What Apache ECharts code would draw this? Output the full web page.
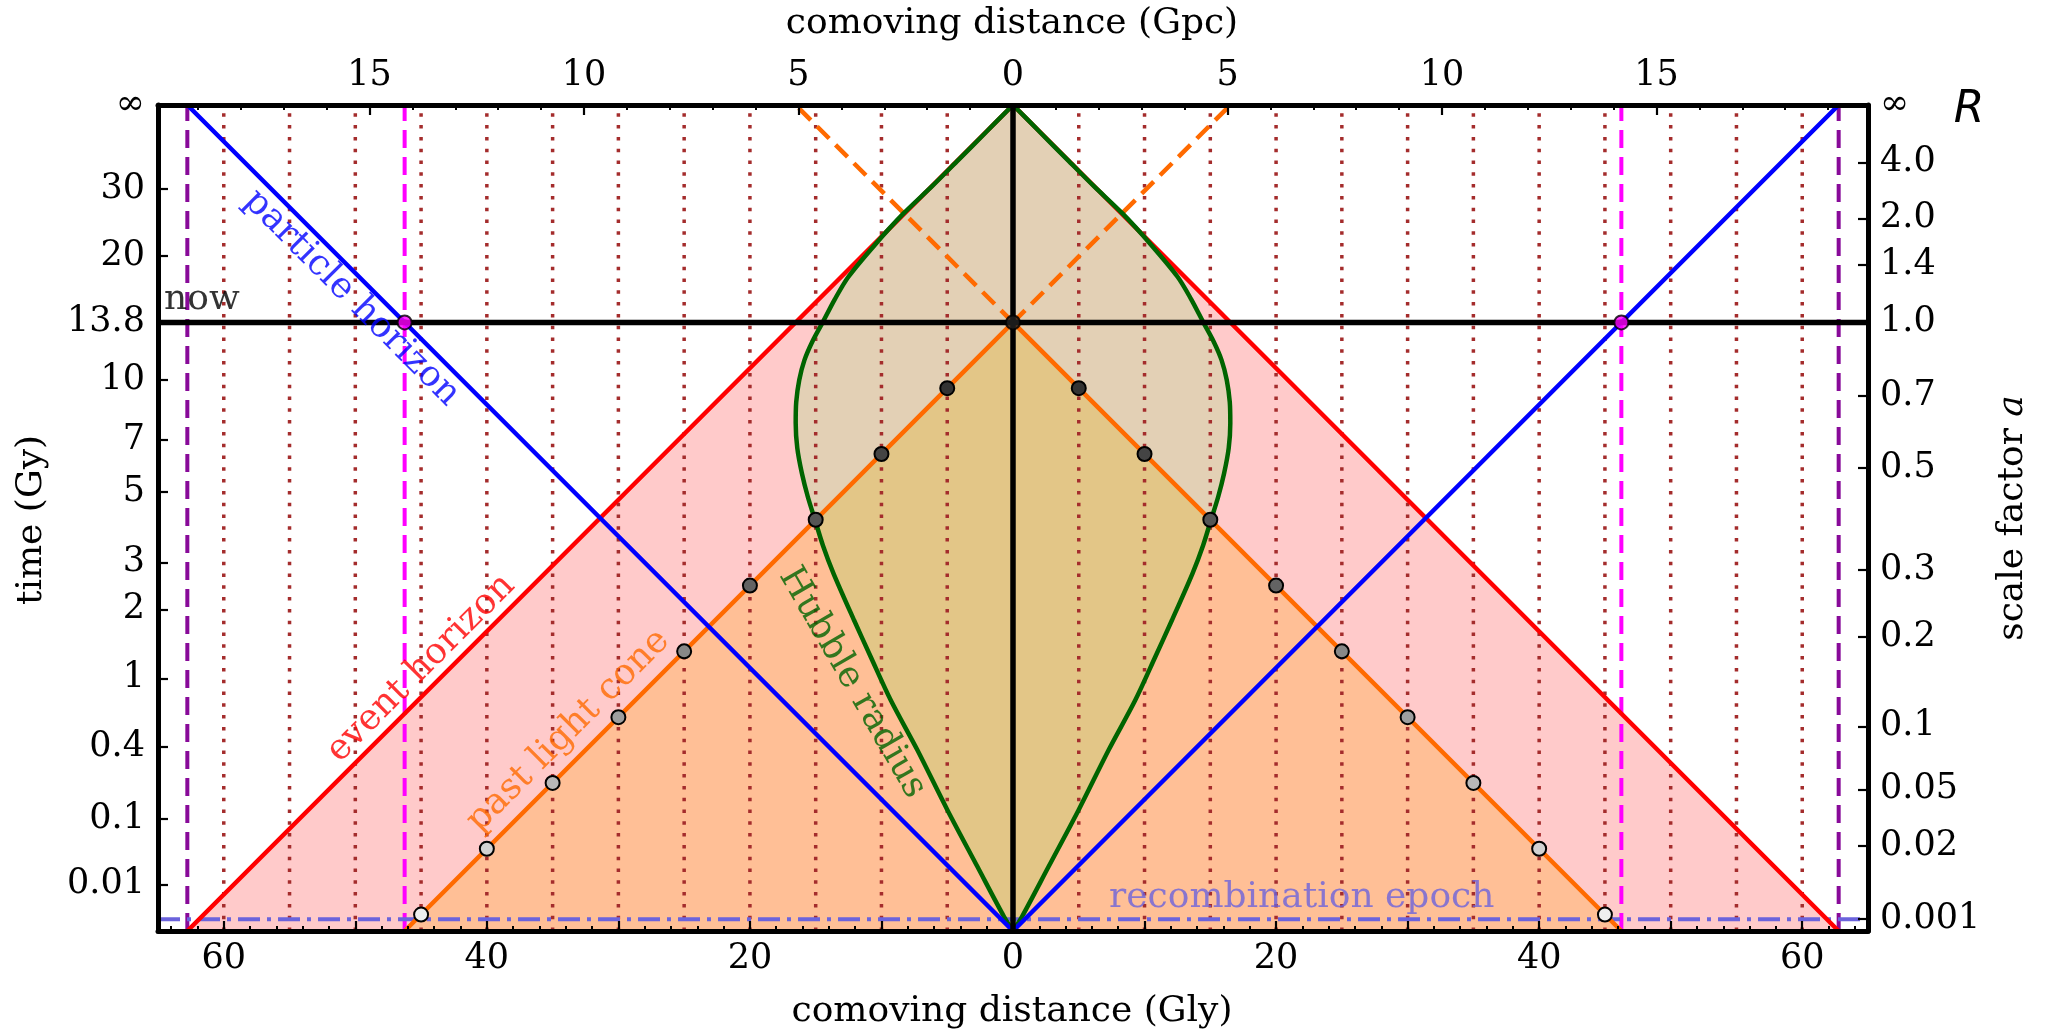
<!DOCTYPE html>
<html><head><meta charset="utf-8">
<script src="https://cdn.jsdelivr.net/npm/echarts@6/dist/echarts.min.js"></script>
<style>html,body{margin:0;padding:0;background:#fff}#c{width:2047px;height:1036px}</style>
</head><body><div id="c"></div>
<script>
// ---------------- data (x: comoving distance in Gly, y: conformal time in Gly) ----------------
const timeTickLabels  = ['∞','30','20','13.8','10','7','5','3','2','1','0.4','0.1','0.01'];
const timeTickEta     = [62.77,56.38,51.31,46.25,41.87,37.31,33.38,28.02,24.45,19.20,13.97,8.51,3.55];
const scaleTickLabels = ['∞','4.0','2.0','1.4','1.0','0.7','0.5','0.3','0.2','0.1','0.05','0.02','0.001'];
const scaleTickEta    = [62.77,58.41,54.16,50.61,46.25,40.68,35.21,27.43,22.36,15.55,10.77,6.48,0.91];
const distMajorGly = [-60,-50,-40,-30,-20,-10,0,10,20,30,40,50,60];
const distLabelGly = [-60,-40,-20,0,20,40,60];
const distMajorGpc = [-15,-10,-5,0,5,10,15];
const GLY_PER_GPC = 3.2616;

const etaInfinity = 62.77;   // conformal time at t = infinity
const etaNow = 46.25;        // conformal time today (13.8 Gy)
const etaRecomb = 0.9;       // recombination epoch

const eventHorizonX   = [-62.77, 0, 62.77];
const eventHorizonEta = [0, 62.77, 0];
const lightConeX      = [-46.25, 0, 46.25];
const lightConeEta    = [0, 46.25, 0];
const futureConeLX    = [0, -16.52];
const futureConeLEta  = [46.25, 62.77];
const futureConeRX    = [0, 16.52];
const futureConeREta  = [46.25, 62.77];
const particleHorizonX   = [-62.77, 0, 62.77];
const particleHorizonEta = [62.77, 0, 62.77];
const hubbleEta    = [0, 1.1, 4.9, 9.2, 13.75, 17.55, 20.84, 23.63, 27.18, 29.3, 31.23, 33.0, 34.78, 36.7, 38.58, 40.2, 41.87, 43.4, 44.8, 46.25, 48.0, 49.72, 52.25, 54.53, 56.6, 58.6, 60.7, 62.77];
const hubbleRadius = [0, 0.69, 2.71, 4.99, 7.27, 9.30, 10.82, 12.09, 13.65, 14.45, 15.05, 15.6, 16.05, 16.4, 16.52, 16.48, 16.25, 15.85, 15.25, 14.47, 13.55, 12.51, 10.41, 8.32, 6.15, 4.15, 2.06, 0];
const galaxyX   = [-45,-40,-35,-30,-25,-20,-15,-10,-5,5,10,15,20,25,30,35,40,45];
const galaxyEta = [1.25,6.25,11.25,16.25,21.25,26.25,31.25,36.25,41.25,41.25,36.25,31.25,26.25,21.25,16.25,11.25,6.25,1.25];
const horizonNowX   = [-46.25, 46.25];
const horizonNowEta = [46.25, 46.25];
const hereNowX = [0];
const hereNowEta = [46.25];
const gridLineX = [-60,-55,-50,-45,-40,-35,-30,-25,-20,-15,-10,-5,5,10,15,20,25,30,35,40,45,50,55,60];
const magentaLineX = [-46.25, 46.25];
const purpleLineX  = [-62.77, 62.77];

// ---------------- helpers ----------------
const FONT = 'DejaVu Serif';
const XMIN = -65, XMAX = 65;
const zip = (xs, ys) => xs.map((x, i) => [x, ys[i]]);
function nearestLabel(v, etas, labels) {
  let bi = 0, bd = Infinity;
  etas.forEach((e, i) => { const d = Math.abs(e - v); if (d < bd) { bd = d; bi = i; } });
  return labels[bi];
}
const distMinorGly = [];
for (let v = -64; v <= 64; v += 2) if (v % 10 !== 0) distMinorGly.push(v);
const gpcMinorGly = [];
for (let v = -19; v <= 19; v++) if (v % 5 !== 0) gpcMinorGly.push(v * GLY_PER_GPC);

const hubbleLeft  = hubbleEta.map((e, i) => [-hubbleRadius[i], e]);
const hubbleRight = hubbleEta.map((e, i) => [hubbleRadius[i], e]);
const lensPoly = hubbleLeft.concat(hubbleRight.slice().reverse());
function lensInCone() {
  const pts = [];
  for (let i = 0; i < hubbleEta.length; i++) {
    const f = hubbleEta[i] + hubbleRadius[i] - etaNow;
    if (f <= 0) { pts.push([-hubbleRadius[i], hubbleEta[i]]); continue; }
    const fp = hubbleEta[i - 1] + hubbleRadius[i - 1] - etaNow;
    const t = fp / (fp - f);
    pts.push([-(hubbleRadius[i - 1] + t * (hubbleRadius[i] - hubbleRadius[i - 1])),
              hubbleEta[i - 1] + t * (hubbleEta[i] - hubbleEta[i - 1])]);
    break;
  }
  return pts.concat([[0, etaNow]], pts.slice().reverse().map(p => [-p[0], p[1]]));
}

function polygonSeries(points, color, z) {
  return {
    type: 'custom', z: z, silent: true, data: [[0, 0]],
    renderItem: (params, api) => ({
      type: 'polygon',
      shape: { points: points.map(p => api.coord(p)) },
      style: { fill: color }
    })
  };
}
function vLineSeries(xs, color, width, dash, z) {
  return {
    type: 'custom', z: z, silent: true, data: xs.map(x => [x, 0]),
    renderItem: (params, api) => {
      const a = api.coord([api.value(0), 0]);
      const b = api.coord([api.value(0), etaInfinity]);
      return { type: 'line', shape: { x1: a[0], y1: a[1], x2: b[0], y2: b[1] },
               style: { stroke: color, lineWidth: width, lineDash: dash } };
    }
  };
}
function lineSeries(data, color, width, z, type, smooth) {
  return { type: 'line', data: data, z: z, silent: true, showSymbol: false, symbol: 'none',
           smooth: smooth || false, clip: true,
           lineStyle: { color: color, width: width, type: type || 'solid', cap: 'butt' } };
}
function textLabel(x, y, text, color, rotate, align) {
  return { value: [x, y], label: { show: true, position: 'inside', formatter: text, color: color,
           rotate: rotate, align: align || 'center', verticalAlign: 'middle',
           fontFamily: FONT, fontSize: 36 } };
}

const LW = 4.5;
const series = [
  polygonSeries(zip(eventHorizonX, eventHorizonEta), '#ffcaca', 1),
  polygonSeries(zip(lightConeX, lightConeEta), '#ffbf96', 1),
  polygonSeries(lensPoly, '#e3d0b5', 1),
  polygonSeries(lensInCone(), '#e3c687', 1),
  vLineSeries(gridLineX, '#a42c2c', 3.5, [3.5, 8.3], 2),
  lineSeries([[XMIN, etaRecomb], [XMAX, etaRecomb]], '#6b63dc', 4, 3, [22, 7, 4, 7]),
  vLineSeries(magentaLineX, '#ff00ff', 4, [18, 9], 3),
  vLineSeries(purpleLineX, '#880a99', 4, [18, 9], 3),
  lineSeries(zip(futureConeLX, futureConeLEta), '#ff6a00', LW, 4, [17, 9]),
  lineSeries(zip(futureConeRX, futureConeREta), '#ff6a00', LW, 4, [17, 9]),
  lineSeries(zip(eventHorizonX, eventHorizonEta), '#ff0000', LW, 4),
  lineSeries(zip(lightConeX, lightConeEta), '#ff6a00', LW, 4),
  lineSeries(hubbleLeft, '#006400', LW, 4, 'solid', 0.3),
  lineSeries(hubbleRight, '#006400', LW, 4, 'solid', 0.3),
  lineSeries(zip(particleHorizonX, particleHorizonEta), '#0000ff', LW, 4),
  lineSeries([[XMIN, etaNow], [XMAX, etaNow]], '#000000', 5.5, 5),
  lineSeries([[0, 0], [0, etaInfinity]], '#000000', 5.5, 5),
  { type: 'scatter', z: 6, silent: true, data: zip(galaxyX, galaxyEta), symbol: 'circle', symbolSize: 14,
    itemStyle: { borderColor: '#000', borderWidth: 2, opacity: 1 } },
  { type: 'scatter', z: 6, silent: true, data: zip(horizonNowX, horizonNowEta), symbol: 'circle', symbolSize: 14,
    itemStyle: { color: '#ff00ff', borderColor: '#000', borderWidth: 2 } },
  { type: 'scatter', z: 6, silent: true, data: zip(hereNowX, hereNowEta), symbol: 'circle', symbolSize: 14,
    itemStyle: { color: '#222', borderColor: '#000', borderWidth: 2 } },
  { type: 'scatter', z: 7, silent: true, symbolSize: 0,
    data: [
      textLabel(-50.3, 48.1, 'particle horizon', '#0000ff', -45),
      textLabel(-45.0, 19.95, 'event horizon', '#ff0000', 45),
      textLabel(-33.8, 15.2, 'past light cone', '#ff6a00', 45),
      textLabel(-12.23, 18.86, 'Hubble radius', '#006400', -60),
      textLabel(21.95, 2.55, 'recombination epoch', '#6b63dc', 0),
      textLabel(-64.54, 48.0, 'now', '#000000', 0, 'left')
    ] }
];
const galaxySeriesIndex = 17;

const axisLineStyle = { color: '#000', width: 5 };
const labelStyle = { fontFamily: FONT, fontSize: 35, color: '#000' };

const option = {
  animation: false,
  backgroundColor: '#ffffff',
  grid: { left: 158, right: 179, top: 105, bottom: 105, containLabel: false },
  visualMap: { show: false, type: 'continuous', seriesIndex: galaxySeriesIndex, dimension: 1,
    min: 1.25, max: 41.25,
    inRange: { color: ['#eeeeee','#d2d2d2','#b8b8b8','#9e9e9e','#888888','#636363','#555555','#444444','#333333'] } },
  xAxis: [
    { type: 'value', position: 'bottom', min: XMIN, max: XMAX, z: 10,
      axisLine: { onZero: false, lineStyle: axisLineStyle },
      axisTick: { inside: true, length: 10, customValues: distMajorGly, lineStyle: { color: '#000', width: 2.2 } },
      axisLabel: Object.assign({ customValues: distLabelGly, margin: 10,
        formatter: v => String(Math.abs(Math.round(v))) }, labelStyle),
      splitLine: { show: false } },
    { type: 'value', position: 'bottom', min: XMIN, max: XMAX, z: 10,
      axisLine: { onZero: false, show: false },
      axisTick: { inside: true, length: 5, customValues: distMinorGly, lineStyle: { color: '#000', width: 2 } },
      axisLabel: { show: false }, splitLine: { show: false } },
    { type: 'value', position: 'top', min: XMIN, max: XMAX, z: 10,
      axisLine: { onZero: false, lineStyle: axisLineStyle },
      axisTick: { inside: true, length: 10, customValues: distMajorGpc.map(v => v * GLY_PER_GPC), lineStyle: { color: '#000', width: 2.2 } },
      axisLabel: Object.assign({ customValues: distMajorGpc.map(v => v * GLY_PER_GPC), margin: 12,
        formatter: v => String(Math.abs(Math.round(v / GLY_PER_GPC))) }, labelStyle),
      splitLine: { show: false } },
    { type: 'value', position: 'top', min: XMIN, max: XMAX, z: 10,
      axisLine: { onZero: false, show: false },
      axisTick: { inside: true, length: 5, customValues: gpcMinorGly, lineStyle: { color: '#000', width: 2 } },
      axisLabel: { show: false }, splitLine: { show: false } }
  ],
  yAxis: [
    { type: 'value', position: 'left', min: 0, max: etaInfinity, z: 10,
      axisLine: { onZero: false, lineStyle: axisLineStyle },
      axisTick: { inside: true, length: 10, customValues: timeTickEta.slice(1), lineStyle: { color: '#000', width: 2.2 } },
      axisLabel: Object.assign({ customValues: timeTickEta, margin: 13,
        formatter: v => nearestLabel(v, timeTickEta, timeTickLabels) }, labelStyle),
      splitLine: { show: false } },
    { type: 'value', position: 'right', min: 0, max: etaInfinity, z: 10,
      axisLine: { onZero: false, lineStyle: axisLineStyle },
      axisTick: { inside: true, length: 10, customValues: scaleTickEta.slice(1), lineStyle: { color: '#000', width: 2.2 } },
      axisLabel: Object.assign({ customValues: scaleTickEta, margin: 12,
        formatter: v => nearestLabel(v, scaleTickEta, scaleTickLabels) }, labelStyle),
      splitLine: { show: false } }
  ],
  graphic: [
    { type: 'text', x: 1012, y: 1012, style: { text: 'comoving distance (Gly)', fontFamily: FONT, fontSize: 36, fill: '#000', align: 'center', verticalAlign: 'middle' } },
    { type: 'text', x: 1012, y: 24, style: { text: 'comoving distance (Gpc)', fontFamily: FONT, fontSize: 36, fill: '#000', align: 'center', verticalAlign: 'middle' } },
    { type: 'text', x: 32, y: 520, rotation: Math.PI / 2, style: { text: 'time (Gy)', fontFamily: FONT, fontSize: 36, fill: '#000', align: 'center', verticalAlign: 'middle' } },
    { type: 'text', x: 2013, y: 518, rotation: Math.PI / 2, style: { text: '{n|scale factor }{i|a}', fill: '#000', align: 'center', verticalAlign: 'middle',
        rich: { n: { fontFamily: FONT, fontSize: 36, fill: '#000' }, i: { fontFamily: FONT, fontSize: 36, fontStyle: 'italic', fill: '#000' } } } },
    { type: 'text', x: 1969, y: 111, style: { text: 'R', fontFamily: 'DejaVu Sans', fontSize: 44, fontStyle: 'italic', fill: '#000', align: 'center', verticalAlign: 'middle' } }
  ],
  series: series
};
const chart = echarts.init(document.getElementById('c'));
chart.setOption(option);
</script>
</body></html>
